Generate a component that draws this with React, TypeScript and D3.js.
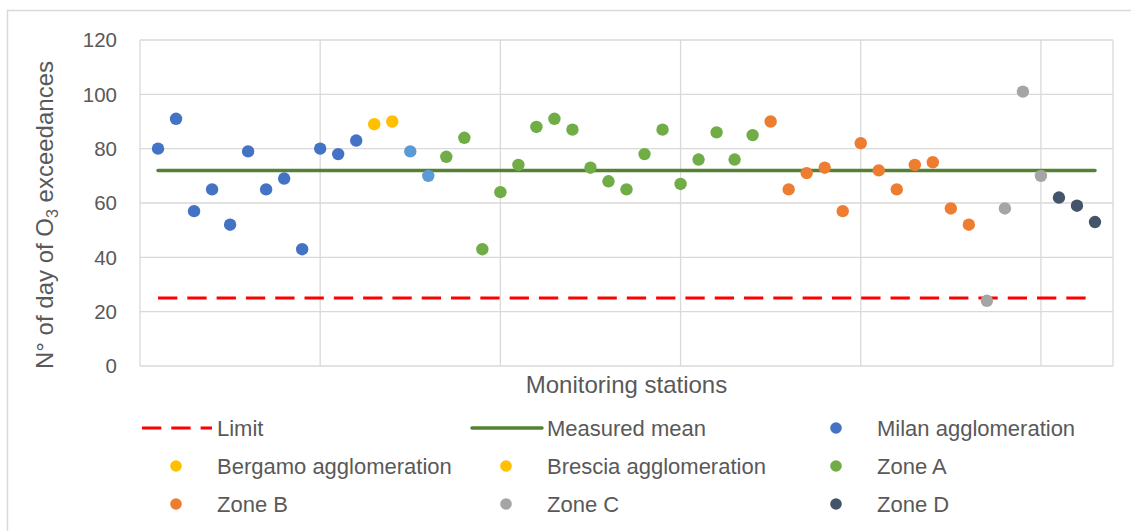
import React from "react";
import * as d3 from "d3";

// Ozone exceedance days per monitoring station, grouped by area
const milanStations = [1, 2, 3, 4, 5, 6, 7, 8, 9, 10, 11, 12];
const milanValues = [80, 91, 57, 65, 52, 79, 65, 69, 43, 80, 78, 83];
const bergamoStations = [13, 14];
const bergamoValues = [89, 90];
const bresciaStations = [15, 16];
const bresciaValues = [79, 70];
const zoneAStations = [17, 18, 19, 20, 21, 22, 23, 24, 25, 26, 27, 28, 29, 30, 31, 32, 33, 34];
const zoneAValues = [77, 84, 43, 64, 74, 88, 91, 87, 73, 68, 65, 78, 87, 67, 76, 86, 76, 85];
const zoneBStations = [35, 36, 37, 38, 39, 40, 41, 42, 43, 44, 45, 46];
const zoneBValues = [90, 65, 71, 73, 57, 82, 72, 65, 74, 75, 58, 52];
const zoneCStations = [47, 48, 49, 50];
const zoneCValues = [24, 58, 101, 70];
const zoneDStations = [51, 52, 53];
const zoneDValues = [62, 59, 53];

const limitValue = 25;
const measuredMean = 72;
const firstStation = 1;
const lastStation = 53;

const yTicks = [0, 20, 40, 60, 80, 100, 120];
const xGridTicks = [0, 10, 20, 30, 40, 50, 54];

type Series = {
  name: string;
  stations: number[];
  values: number[];
  color: string;
  legendColor: string;
};

const series: Series[] = [
  { name: "Milan agglomeration", stations: milanStations, values: milanValues, color: "#4472C4", legendColor: "#4472C4" },
  { name: "Bergamo agglomeration", stations: bergamoStations, values: bergamoValues, color: "#FFC000", legendColor: "#FFC000" },
  { name: "Brescia agglomeration", stations: bresciaStations, values: bresciaValues, color: "#5B9BD5", legendColor: "#FFC000" },
  { name: "Zone A", stations: zoneAStations, values: zoneAValues, color: "#70AD47", legendColor: "#70AD47" },
  { name: "Zone B", stations: zoneBStations, values: zoneBValues, color: "#ED7D31", legendColor: "#ED7D31" },
  { name: "Zone C", stations: zoneCStations, values: zoneCValues, color: "#A5A5A5", legendColor: "#A5A5A5" },
  { name: "Zone D", stations: zoneDStations, values: zoneDValues, color: "#44546A", legendColor: "#44546A" },
];

const W = 1131;
const H = 531;
const plot = { left: 140, right: 1113, top: 40, bottom: 366 };
const FONT = "'Liberation Sans', Arial, sans-serif";
const TEXT = "#595959";
const GRID = "#D9D9D9";
const DASH = "19.3 10";

export default function App() {
  const x = d3.scaleLinear().domain([0, 54]).range([plot.left, plot.right]);
  const y = d3.scaleLinear().domain([0, 120]).range([plot.bottom, plot.top]);

  const lineGen = d3
    .line<[number, number]>()
    .x((d) => x(d[0]))
    .y((d) => y(d[1]));

  const limitPath = lineGen([
    [firstStation, limitValue],
    [lastStation, limitValue],
  ]);
  const meanPath = lineGen([
    [firstStation, measuredMean],
    [lastStation, measuredMean],
  ]);

  // Legend grid: three columns, three rows
  const colX = [142, 472, 802];
  const rowY = [428, 466, 504];
  const legendItems: { kind: "dash" | "line" | "dot"; label: string; color: string }[] = [
    { kind: "dash", label: "Limit", color: "#FF0000" },
    { kind: "line", label: "Measured mean", color: "#548235" },
    ...series.map((s) => ({ kind: "dot" as const, label: s.name, color: s.legendColor })),
  ];

  return (
    <svg
      width={W}
      height={H}
      style={{ position: "absolute", left: 0, top: 0, background: "#fff" }}
      fontFamily={FONT}
    >
      <rect x={7.5} y={10.5} width={1130} height={530} fill="#fff" stroke={GRID} strokeWidth={1.5} />

      {/* horizontal gridlines */}
      {yTicks.map((t) => (
        <line key={"h" + t} x1={plot.left} x2={plot.right} y1={y(t)} y2={y(t)} stroke={GRID} strokeWidth={1.3} />
      ))}
      {/* vertical gridlines */}
      {xGridTicks.map((t) => (
        <line key={"v" + t} x1={x(t)} x2={x(t)} y1={plot.top} y2={plot.bottom} stroke={GRID} strokeWidth={1.3} />
      ))}

      {/* y tick labels */}
      {yTicks.map((t) => (
        <text key={"yl" + t} x={117} y={y(t)} dy="0.35em" textAnchor="end" fontSize={20.5} fill={TEXT}>
          {t}
        </text>
      ))}

      {/* reference lines */}
      <path d={limitPath ?? ""} stroke="#FF0000" strokeWidth={3} strokeDasharray={DASH} fill="none" />
      <path d={meanPath ?? ""} stroke="#548235" strokeWidth={3.5} fill="none" strokeLinecap="round" />

      {/* station points */}
      {series.map((s) =>
        s.stations.map((st, i) => (
          <circle key={s.name + st} cx={x(st)} cy={y(s.values[i])} r={6.2} fill={s.color} />
        ))
      )}

      {/* axis titles */}
      <text x={(plot.left + plot.right) / 2} y={393} textAnchor="middle" fontSize={24} fill={TEXT}>
        Monitoring stations
      </text>
      <text transform={`translate(53,215) rotate(-90)`} textAnchor="middle" fontSize={24} fill={TEXT}>
        N° of day of O
        <tspan fontSize={16} dy={5}>3</tspan>
        <tspan dy={-5}> exceedances</tspan>
      </text>

      {/* legend */}
      {legendItems.map((item, i) => {
        const cx = colX[i % 3];
        const cy = rowY[Math.floor(i / 3)];
        return (
          <g key={item.label}>
            {item.kind === "dash" && (
              <line x1={cx} x2={cx + 70} y1={cy} y2={cy} stroke={item.color} strokeWidth={3} strokeDasharray={DASH} />
            )}
            {item.kind === "line" && (
              <line x1={cx} x2={cx + 70} y1={cy} y2={cy} stroke={item.color} strokeWidth={3.5} strokeLinecap="round" />
            )}
            {item.kind === "dot" && <circle cx={cx + 34} cy={cy} r={5.8} fill={item.color} />}
            <text x={cx + 75} y={cy} dy="0.35em" fontSize={22} fill={TEXT}>
              {item.label}
            </text>
          </g>
        );
      })}
    </svg>
  );
}
